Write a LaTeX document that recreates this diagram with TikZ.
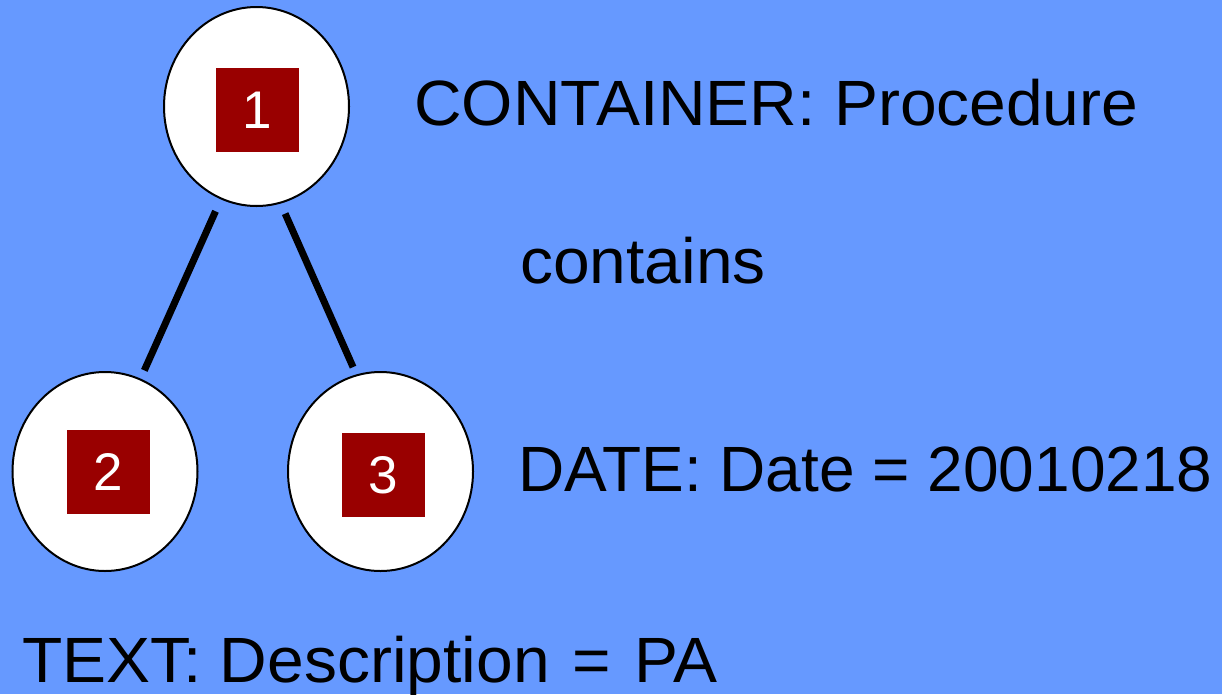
\documentclass[tikz,border=0pt]{standalone}
\usepackage{fontspec}
\setmainfont{Liberation Sans}
\newfontfamily\widefont[FakeStretch=1.03]{Liberation Sans}
\usetikzlibrary{shapes.geometric}
\definecolor{bgblue}{HTML}{6699FF}
\definecolor{tagred}{HTML}{990000}
\tikzset{
  treenode/.style={ellipse, draw=black, line width=2pt, fill=white,
    minimum width=185pt, minimum height=199pt, inner sep=0pt},
  tag/.style={rectangle, fill=tagred, text=white, minimum width=83pt,
    minimum height=84pt, inner sep=0pt, font=\fontsize{53}{64}\selectfont},
  label/.style={anchor=base west, inner sep=0pt, text=black,
    font=\fontsize{64}{77}\selectfont},
  wide/.style={font=\widefont\fontsize{64}{77}\selectfont},
  edge/.style={line width=7pt, black}
}
\begin{document}
\begin{tikzpicture}[x=1pt, y=-1pt]
  \useasboundingbox (0,0) rectangle (1222,694);
  \fill[bgblue] (0,0) rectangle (1222,694);

  % tree of three nodes
  \node[treenode] (c1) at (256.5,106.5) {};
  \node[treenode] (c2) at (105,471.5) {};
  \node[treenode] (c3) at (380.5,471.5) {};

  \node[tag] (t1) at (257.5,110) {1};
  \node[tag] (t2) at (108.5,472) {2};
  \node[tag] (t3) at (383.5,475) {3};

  \draw[edge, shorten <=13pt, shorten >=9pt] (c1.249) -- (c2.69);
  \draw[edge, shorten <=11pt, shorten >=8pt] (c1.284) -- (c3.104);

  % descriptions
  \node[label, wide] (container) at (414,125) {CONTAINER: Procedure};
  \node[label, wide] (contains) at (520,283) {contains};
  \node[label] (date) at (518,491) {DATE: Date = 20010218};
  \node[label, wide] (text) at (22,682) {TEXT: Description\hspace{5pt} =\hspace{5pt} PA};
\end{tikzpicture}
\end{document}
